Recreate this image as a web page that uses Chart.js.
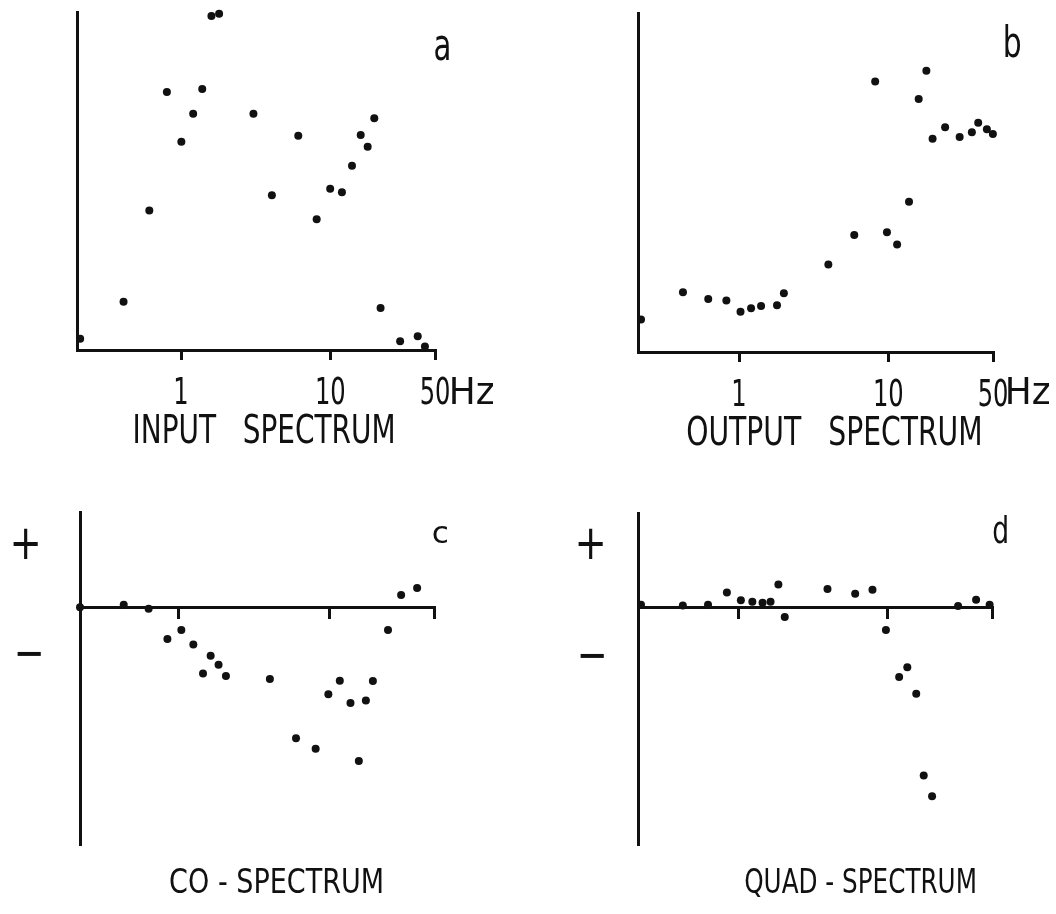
<!DOCTYPE html>
<html>
<head>
<meta charset="utf-8">
<script src="https://cdn.jsdelivr.net/npm/chart.js@4.4.1/dist/chart.umd.min.js"></script>
<style>
  html, body { margin: 0; padding: 0; background: #fff; }
  #page { position: relative; width: 1056px; height: 914px; overflow: hidden; background: #fff; }
  #page canvas { position: absolute; }
</style>
</head>
<body>
<div id="page">
  <canvas id="panelA" width="528" height="460" style="left:0px;top:0px;width:528px;height:460px"></canvas>
  <canvas id="panelB" width="528" height="460" style="left:528px;top:0px;width:528px;height:460px"></canvas>
  <canvas id="panelC" width="528" height="454" style="left:0px;top:460px;width:528px;height:454px"></canvas>
  <canvas id="panelD" width="528" height="454" style="left:528px;top:460px;width:528px;height:454px"></canvas>
</div>
<script>
// ---- data -------------------------------------------------------------
// frequencies in Hz, spectral values in arbitrary units

// a: input spectrum
const inputFreq  = [0.21, 0.41, 0.61, 0.80, 1.0, 1.2, 1.38, 1.59, 1.79, 3.04, 4.04, 6.07,
                    8.06, 9.93, 11.9, 13.9, 15.9, 17.7, 19.6, 21.6, 29.2, 38.3, 42.8];
const inputPower = [3.3, 14.3, 41.3, 76.3, 61.6, 69.9, 77.2, 98.8, 99.5, 69.9, 45.8, 63.4,
                    38.7, 47.7, 46.7, 54.5, 63.6, 60.1, 68.6, 12.4, 2.6, 4.1, 1.0];

// b: output spectrum
const outputFreq  = [0.22, 0.42, 0.62, 0.82, 1.02, 1.2, 1.4, 1.79, 1.99, 3.95, 5.89, 8.13,
                     9.75, 11.4, 13.7, 15.9, 17.9, 19.7, 23.9, 29.9, 36.1, 39.8, 45.5, 49.9];
const outputPower = [9.6, 17.6, 15.6, 15.2, 11.9, 12.9, 13.6, 13.8, 17.3, 25.8, 34.5, 79.8,
                     35.3, 31.7, 44.3, 74.6, 83.0, 62.9, 66.3, 63.4, 64.8, 67.6, 65.7, 64.3];

// c: co-spectrum
const coFreq  = [0.22, 0.43, 0.63, 0.84, 1.04, 1.25, 1.45, 1.63, 1.84, 2.06, 4.04, 6.03,
                 8.15, 9.9, 11.8, 13.9, 15.8, 17.6, 19.6, 24.7, 30.2, 38.6];
const coValue = [0, 1.0, -0.7, -13.4, -9.6, -15.7, -27.9, -20.4, -24.2, -29.0, -30.2, -55.1,
                 -59.5, -36.6, -30.9, -40.3, -64.7, -39.2, -31.0, -9.6, 5.1, 8.0];

// d: quad-spectrum
const quadFreq  = [0.22, 0.42, 0.62, 0.83, 1.03, 1.23, 1.44, 1.63, 1.84, 2.03, 3.93, 6.03,
                   7.88, 9.7, 11.9, 13.5, 15.5, 17.4, 19.8, 29.6, 39.1, 48.2];
const quadValue = [1.3, 1.0, 1.3, 6.5, 3.2, 2.6, 2.2, 2.6, 9.8, -3.9, 7.9, 5.9,
                   7.6, -9.3, -29.2, -25.0, -36.2, -70.7, -79.4, 0.8, 3.4, 1.3];

// axis ticks and their labels
const freqTicks  = [1, 10, 50];
const freqLabels = ['1', '10', '50'];
const freqUnit   = 'Hz';

// captions
const panelLetters = ['a', 'b', 'c', 'd'];
const panelTitles  = ['INPUT   SPECTRUM', 'OUTPUT   SPECTRUM', 'CO - SPECTRUM', 'QUAD - SPECTRUM'];
const signLabels   = ['+', '\u2212'];

// ---- drawing ----------------------------------------------------------
const FONT = "'Liberation Sans Narrow', 'DejaVu Sans Condensed', 'Liberation Sans', 'DejaVu Sans', sans-serif";
const INK = '#111';

Chart.defaults.font.family = FONT;
Chart.defaults.color = INK;

function inkWidth(m) {
  return m.actualBoundingBoxLeft + m.actualBoundingBoxRight;
}

// Condensed lettering: captions squeezed into a given ink box (page
// coordinates) and the x-axis tick labels, squeezed the same way and
// centred on the scale's own tick positions.
const lettering = {
  id: 'lettering',
  afterDraw(chart, args, opts) {
    const ctx = chart.ctx;
    const ox = opts.offsetX || 0, oy = opts.offsetY || 0;
    ctx.save();
    ctx.fillStyle = INK;
    ctx.textAlign = 'left';
    ctx.textBaseline = 'alphabetic';

    const tl = opts.tickLabels;
    if (tl) {
      const sc = chart.scales.x;
      ctx.font = tl.size + 'px ' + FONT;
      const sx = tl.refWidth / inkWidth(ctx.measureText(tl.refText));
      for (const tk of sc.ticks) {
        const label = String(tk.label || '');
        if (!label) continue;
        const px = sc.getPixelForValue(tk.value);
        const m = ctx.measureText(label);
        const w = inkWidth(m) * sx;
        ctx.save();
        ctx.translate(px - w / 2 + m.actualBoundingBoxLeft * sx + (tl.shift || 0), sc.top + tl.dy);
        ctx.scale(sx, 1);
        ctx.fillText(label, 0, 0);
        ctx.restore();
      }
    }

    for (const t of opts.items || []) {
      ctx.font = t.size + 'px ' + FONT;
      const m = ctx.measureText(t.text);
      const sx = (t.right - t.left) / inkWidth(m);
      let base = t.baseline;
      if (t.cy !== undefined) {
        base = t.cy + (m.actualBoundingBoxAscent - m.actualBoundingBoxDescent) / 2;
      }
      ctx.save();
      ctx.translate(t.left - ox + m.actualBoundingBoxLeft * sx, base - oy);
      ctx.scale(sx, 1);
      ctx.fillText(t.text, 0, 0);
      ctx.restore();
    }
    ctx.restore();
  }
};

function makePanel(id, cfg) {
  const xScale = {
    type: 'logarithmic',
    min: cfg.xMin,
    max: 50,
    position: cfg.axisAtZero ? { y: 0 } : 'bottom',
    afterBuildTicks: s => { s.ticks = freqTicks.map(v => ({ value: v })); },
    afterFit: s => { if (!cfg.axisAtZero) s.height = 100; },
    ticks: {
      display: false,          // drawn condensed by the lettering plugin
      autoSkip: false,
      maxRotation: 0,
      callback: (v) => {
        const i = freqTicks.indexOf(v);
        return i >= 0 ? freqLabels[i] : '';
      }
    },
    grid: {
      display: true,
      drawOnChartArea: false,
      drawTicks: true,
      tickLength: 10,
      lineWidth: 3,
      tickWidth: 3,
      tickColor: INK,
      color: INK
    },
    border: { display: true, color: INK, width: 3 }
  };
  const yScale = {
    type: 'linear',
    min: cfg.yMin,
    max: cfg.yMax,
    position: 'left',
    afterFit: s => { s.width = 0; },
    ticks: { display: false },
    grid: { display: false, drawTicks: false },
    border: { display: true, color: INK, width: 3 }
  };
  return new Chart(document.getElementById(id), {
    type: 'scatter',
    data: {
      datasets: [{
        data: cfg.x.map((f, i) => ({ x: f, y: cfg.y[i] })),
        backgroundColor: INK,
        borderWidth: 0,
        pointRadius: 4,
        pointHoverRadius: 4,
        clip: false
      }]
    },
    options: {
      responsive: false,
      animation: false,
      devicePixelRatio: 1,
      layout: { padding: cfg.padding },
      scales: { x: xScale, y: yScale },
      plugins: {
        legend: { display: false },
        tooltip: { enabled: false },
        lettering: {
          offsetX: cfg.offset[0], offsetY: cfg.offset[1],
          tickLabels: cfg.axisAtZero ? null : { size: 37, refText: '10', refWidth: 27, dy: 54 },
          items: cfg.text
        }
      }
    },
    plugins: [lettering]
  });
}

makePanel('panelA', {
  x: inputFreq, y: inputPower, xMin: 0.2, yMin: 0, yMax: 100,
  padding: { left: 77, top: 12, right: 93, bottom: 10 },
  offset: [0, 0],
  text: [
    { text: panelLetters[0], left: 435, right: 449, baseline: 60, size: 44 },
    { text: panelTitles[0], left: 135, right: 393, baseline: 443, size: 39 },
    { text: freqUnit, left: 452, right: 494, baseline: 404, size: 37 }
  ]
});

makePanel('panelB', {
  x: outputFreq, y: outputPower, xMin: 0.21, yMin: 0, yMax: 100,
  padding: { left: 110, top: 13, right: 63, bottom: 8 },
  offset: [528, 0],
  text: [
    { text: panelLetters[1], left: 1005, right: 1020, baseline: 57, size: 42 },
    { text: panelTitles[1], left: 687, right: 980, baseline: 445, size: 39 },
    { text: freqUnit, left: 1008, right: 1050, baseline: 404, size: 37 }
  ]
});

makePanel('panelC', {
  x: coFreq, y: coValue, xMin: 0.22, yMin: -100, yMax: 40, axisAtZero: true,
  padding: { left: 80, top: 52, right: 94, bottom: 69 },
  offset: [0, 460],
  text: [
    { text: panelLetters[2], left: 433, right: 448, baseline: 543, size: 30 },
    { text: signLabels[0], left: 13, right: 38, cy: 543, size: 48 },
    { text: signLabels[1], left: 17, right: 41, cy: 653, size: 48 },
    { text: panelTitles[2], left: 170, right: 382, baseline: 893, size: 34 }
  ]
});

makePanel('panelD', {
  x: quadFreq, y: quadValue, xMin: 0.21, yMin: -100, yMax: 40, axisAtZero: true,
  padding: { left: 110, top: 53, right: 64, bottom: 69 },
  offset: [528, 460],
  text: [
    { text: panelLetters[3], left: 993, right: 1007, baseline: 543, size: 38 },
    { text: signLabels[0], left: 578, right: 603, cy: 543, size: 48 },
    { text: signLabels[1], left: 580, right: 604, cy: 655, size: 48 },
    { text: panelTitles[3], left: 745, right: 975, baseline: 893, size: 34 }
  ]
});
</script>
</body>
</html>
